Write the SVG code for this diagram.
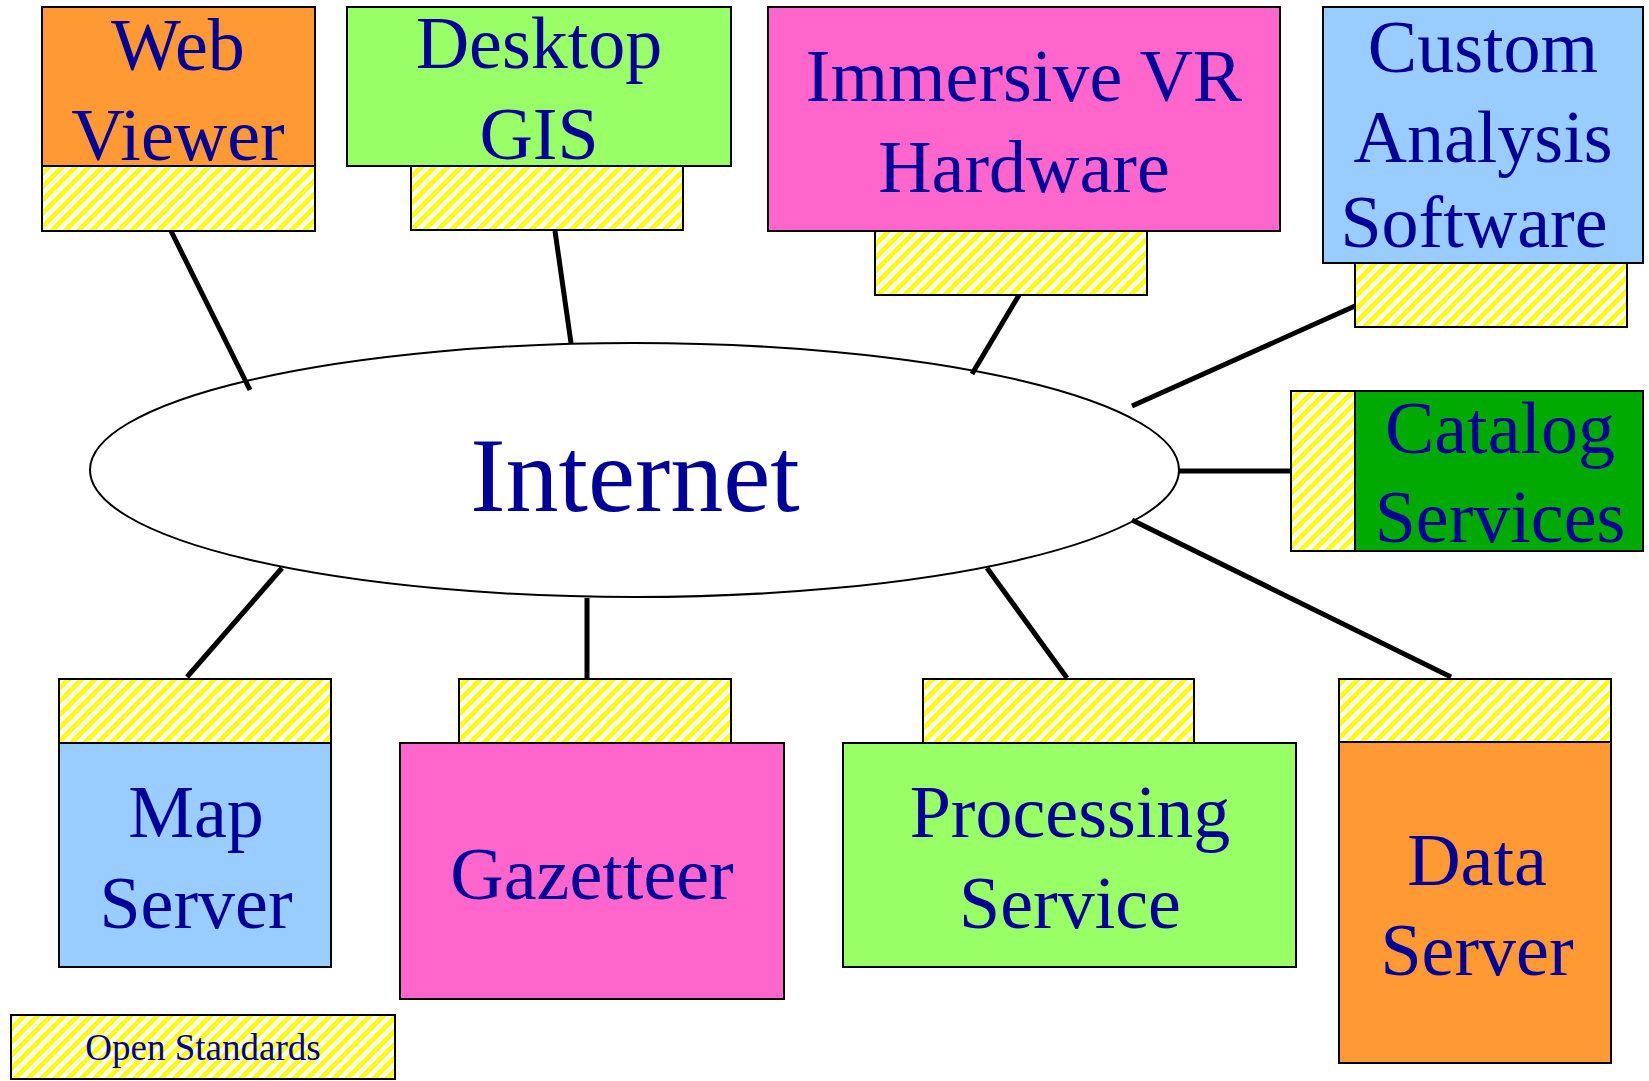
<svg xmlns="http://www.w3.org/2000/svg" width="1649" height="1081" viewBox="0 0 1649 1081">
  <defs>
    <!-- yellow/white diagonal hatch used for the "Open Standards" interface bars -->
    <pattern id="hatch" patternUnits="userSpaceOnUse" width="9.4" height="9.4" patternTransform="rotate(45)">
      <rect x="0" y="0" width="9.4" height="9.4" fill="#FFFFFF"/>
      <rect x="0" y="0" width="4.7" height="9.4" fill="#FFFF00"/>
    </pattern>
  </defs>
  <style>
    .box { stroke: #000000; stroke-width: 2; }
    .std { fill: url(#hatch); stroke: #000000; stroke-width: 2; }
    .orange { fill: #FF9933; }
    .lime { fill: #99FF66; }
    .pink { fill: #FF66CC; }
    .sky { fill: #99CCFF; }
    .green { fill: #00AA00; }
    .label { font-family: "Liberation Serif", "Times New Roman", serif; fill: #000099; text-anchor: middle; font-size: 74px; }
    .conn { stroke: #000000; stroke-width: 5; fill: none; }
  </style>

  <rect x="0" y="0" width="1649" height="1081" fill="#FFFFFF"/>

  <!-- central network -->
  <g id="internet">
    <ellipse cx="634.5" cy="470" rx="544.5" ry="127" fill="#FFFFFF" stroke="#000000" stroke-width="2"/>
    <text class="label" x="635" y="511" style="font-size:106px">Internet</text>
  </g>

  <g id="web-viewer">
    <rect class="box orange" x="42" y="7" width="273" height="159"/>
    <rect class="std" x="42" y="166" width="273" height="65"/>
    <text class="label" x="178" y="70">Web</text>
    <text class="label" x="178" y="160">Viewer</text>
  </g>

  <g id="desktop-gis">
    <rect class="box lime" x="347" y="7" width="384" height="159"/>
    <rect class="std" x="411" y="166" width="272" height="64"/>
    <text class="label" x="539" y="68">Desktop</text>
    <text class="label" x="539" y="159">GIS</text>
  </g>

  <g id="immersive-vr">
    <rect class="box pink" x="768" y="7" width="512" height="224"/>
    <rect class="std" x="875" y="231" width="272" height="64"/>
    <text class="label" x="1024" y="101">Immersive VR</text>
    <text class="label" x="1024" y="192">Hardware</text>
  </g>

  <g id="custom-analysis">
    <rect class="box sky" x="1323" y="7" width="320" height="256"/>
    <rect class="std" x="1355" y="263" width="272" height="64"/>
    <text class="label" x="1483" y="72">Custom</text>
    <text class="label" x="1483" y="162">Analysis</text>
    <text class="label" x="1474" y="247">Software</text>
  </g>

  <g id="catalog-services">
    <rect class="std" x="1291" y="391" width="64" height="160"/>
    <rect class="box green" x="1355" y="391" width="288" height="160"/>
    <text class="label" x="1500" y="453">Catalog</text>
    <text class="label" x="1500" y="542">Services</text>
  </g>

  <g id="map-server">
    <rect class="std" x="59" y="679" width="272" height="64"/>
    <rect class="box sky" x="59" y="743" width="272" height="224"/>
    <text class="label" x="196" y="837">Map</text>
    <text class="label" x="196" y="928">Server</text>
  </g>

  <g id="gazetteer">
    <rect class="std" x="459" y="679" width="272" height="64"/>
    <rect class="box pink" x="400" y="743" width="384" height="256"/>
    <text class="label" x="592" y="899">Gazetteer</text>
  </g>

  <g id="processing-service">
    <rect class="std" x="923" y="679" width="271" height="64"/>
    <rect class="box lime" x="843" y="743" width="453" height="224"/>
    <text class="label" x="1070" y="837">Processing</text>
    <text class="label" x="1070" y="928">Service</text>
  </g>

  <g id="data-server">
    <rect class="std" x="1339" y="679" width="272" height="63"/>
    <rect class="box orange" x="1339" y="742" width="272" height="321"/>
    <text class="label" x="1477" y="885">Data</text>
    <text class="label" x="1477" y="975">Server</text>
  </g>

  <g id="legend">
    <rect class="std" x="11" y="1015" width="384" height="64"/>
    <text class="label" x="203" y="1060" style="font-size:37px">Open Standards</text>
  </g>

  <g id="connectors">
    <line class="conn" x1="171" y1="231" x2="250" y2="390"/>
    <line class="conn" x1="555" y1="231" x2="571" y2="343"/>
    <line class="conn" x1="1019" y1="295" x2="972" y2="374"/>
    <line class="conn" x1="1355" y1="306" x2="1132" y2="406"/>
    <line class="conn" x1="1179" y1="471" x2="1291" y2="471"/>
    <line class="conn" x1="1132" y1="520" x2="1451" y2="677"/>
    <line class="conn" x1="987" y1="568" x2="1067" y2="678"/>
    <line class="conn" x1="587" y1="598" x2="587" y2="678"/>
    <line class="conn" x1="282" y1="568" x2="187" y2="677"/>
  </g>
</svg>
